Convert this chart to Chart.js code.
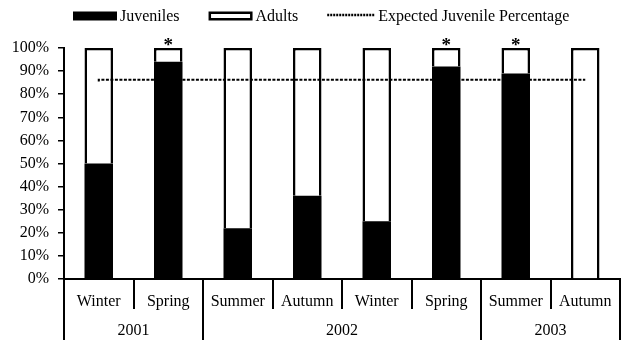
<!DOCTYPE html>
<html>
<head>
<meta charset="utf-8">
<script src="https://cdn.jsdelivr.net/npm/chart.js@4"></script>
<style>
  html, body { margin: 0; padding: 0; background: #fff; }
  #wrap { width: 627px; height: 340px; }
</style>
</head>
<body>
<div id="wrap"><canvas id="chart"></canvas></div>
<script>
// Seasonal sampling periods and the year each one falls in
const seasons = ['Winter', 'Spring', 'Summer', 'Autumn', 'Winter', 'Spring', 'Summer', 'Autumn'];
const years = ['2001', '2002', '2003'];
const yearSpans = [2, 4, 2];          // number of seasons belonging to each year

// Percentage of the catch in each age class
const juveniles = [50, 94, 22, 36, 25, 92, 89, 0];
const adults    = [50, 6, 78, 64, 75, 8, 11, 100];
const expected  = [85.5, 86.3, 86.3, 86.3, 86.3, 86.3, 86.3, 86.3];
const significant = [false, true, false, false, false, true, true, false];

const yTicks = [0, 10, 20, 30, 40, 50, 60, 70, 80, 90, 100];

const SERIF = '"Liberation Serif", "Times New Roman", serif';
const INK = '#000';

// Legend entries, drawn across the top
const legendItems = [
  { text: 'Juveniles', kind: 'solid' },
  { text: 'Adults', kind: 'hollow' },
  { text: 'Expected Juvenile Percentage', kind: 'dash' }
];

const framePlugin = {
  id: 'seasonFrame',
  afterDraw(chart) {
    const ctx = chart.ctx;
    const x = chart.scales.x;
    const y = chart.scales.y;
    const area = chart.chartArea;
    const n = seasons.length;
    const half = (x.getPixelForValue(1) - x.getPixelForValue(0)) / 2;
    const edges = [];
    for (let i = 0; i < n; i++) edges.push(x.getPixelForValue(i) - half);
    edges.push(x.getPixelForValue(n - 1) + half);

    const axisY = area.bottom;
    const seasonRowBottom = axisY + 30;
    const bottom = chart.height;

    // year boundaries (as edge indexes)
    const yearEdges = [0];
    yearSpans.reduce((acc, s) => { yearEdges.push(acc + s); return acc + s; }, 0);

    ctx.save();
    ctx.strokeStyle = INK;
    ctx.lineWidth = 2;
    ctx.beginPath();
    edges.forEach((ex, k) => {
      const full = yearEdges.includes(k);
      ctx.moveTo(Math.round(ex), axisY);
      ctx.lineTo(Math.round(ex), full ? bottom : seasonRowBottom);
    });
    ctx.stroke();

    // year labels, centred under the seasons they span
    ctx.fillStyle = INK;
    ctx.font = '16px ' + SERIF;
    ctx.textAlign = 'center';
    ctx.textBaseline = 'middle';
    years.forEach((yr, j) => {
      const cx = (edges[yearEdges[j]] + edges[yearEdges[j + 1]]) / 2;
      ctx.fillText(yr, cx, axisY + 52);
    });

    // significance markers above the bars
    ctx.font = 'bold 19px ' + SERIF;
    ctx.textBaseline = 'alphabetic';
    significant.forEach((s, i) => {
      if (s) ctx.fillText('*', x.getPixelForValue(i), y.getPixelForValue(100) + 3);
    });

    // legend
    ctx.font = '16px ' + SERIF;
    ctx.textAlign = 'left';
    ctx.textBaseline = 'middle';
    const keyW = 44, keyH = 9, keyGap = 3, itemGap = 29, rowY = 16;
    let cx = 73;
    legendItems.forEach(item => {
      if (item.kind === 'solid') {
        ctx.fillStyle = INK;
        ctx.fillRect(cx, rowY - keyH / 2, keyW, keyH);
      } else if (item.kind === 'hollow') {
        ctx.fillStyle = '#fff';
        ctx.fillRect(cx, rowY - keyH / 2, keyW, keyH);
        ctx.lineWidth = 2.5;
        ctx.strokeRect(cx + 1.25, rowY - keyH / 2 + 1.25, keyW - 2.5, keyH - 2.5);
      } else {
        ctx.lineWidth = 2.5;
        ctx.setLineDash([2, 1]);
        ctx.beginPath();
        ctx.moveTo(cx, rowY - 1);
        ctx.lineTo(cx + keyW + 4, rowY - 1);
        ctx.stroke();
        ctx.setLineDash([]);
        cx += 4;
      }
      ctx.fillStyle = INK;
      ctx.fillText(item.text, cx + keyW + keyGap, rowY + 1);
      cx += keyW + keyGap + ctx.measureText(item.text).width + itemGap;
    });
    ctx.restore();
  }
};

new Chart(document.getElementById('chart'), {
  type: 'bar',
  data: {
    labels: seasons,
    datasets: [
      {
        label: 'Expected Juvenile Percentage',
        type: 'line',
        data: expected,
        stack: 'expected',
        borderColor: INK,
        borderWidth: 2,
        borderDash: [3, 1.5],
        pointRadius: 0,
        stepped: 'after',
        fill: false,
        order: 0
      },
      {
        label: 'Juveniles',
        data: juveniles,
        stack: 'catch',
        backgroundColor: INK,
        borderWidth: 0,
        order: 1
      },
      {
        label: 'Adults',
        data: adults,
        stack: 'catch',
        backgroundColor: '#fff',
        borderColor: INK,
        borderWidth: 2.5,
        order: 1
      }
    ]
  },
  options: {
    responsive: true,
    maintainAspectRatio: false,
    animation: false,
    layout: { padding: { top: 48, right: 7, left: 0, bottom: 0 } },
    datasets: {
      bar: { categoryPercentage: 1, barPercentage: 0.41 }
    },
    plugins: {
      legend: { display: false },
      tooltip: { enabled: false }
    },
    scales: {
      x: {
        stacked: true,
        offset: true,
        grid: { display: false, drawTicks: false },
        border: { display: true, color: INK, width: 2 },
        ticks: {
          color: INK,
          padding: 13,
          maxRotation: 0,
          autoSkip: false,
          font: { family: SERIF, size: 16 }
        },
        afterFit(scale) { scale.height = 61; }
      },
      y: {
        stacked: true,
        min: 0,
        max: 100,
        afterBuildTicks(scale) { scale.ticks = yTicks.map(v => ({ value: v })); },
        grid: {
          display: true,
          drawOnChartArea: false,
          drawTicks: true,
          tickLength: 6,
          color: INK,
          lineWidth: 1.5
        },
        border: { display: true, color: INK, width: 2 },
        ticks: {
          color: INK,
          padding: 9,
          font: { family: SERIF, size: 16 },
          callback: v => v + '%'
        },
        afterFit(scale) { scale.width = 64; }
      }
    }
  },
  plugins: [framePlugin]
});
</script>
</body>
</html>
